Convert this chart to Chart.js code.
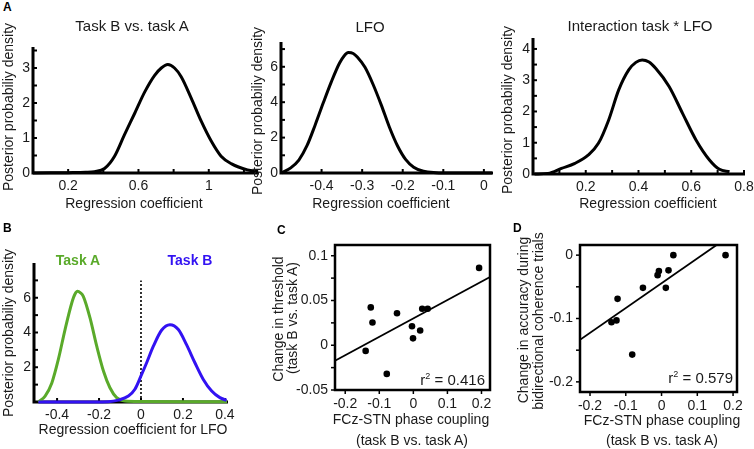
<!DOCTYPE html>
<html><head><meta charset="utf-8">
<script src="https://cdn.jsdelivr.net/npm/chart.js@4.4.1/dist/chart.umd.min.js"></script>
<style>
body{margin:0;background:#fff;}
#wrap{position:relative;width:754px;height:449px;overflow:hidden;background:#fff;font-family:Arial,"Liberation Sans",Helvetica,sans-serif;color:#1a1a1a}
canvas{position:absolute}
.t{position:absolute;white-space:nowrap;transform:translate(-50%,-50%);font-size:15px;line-height:1}
.ax{position:absolute;white-space:nowrap;transform:translate(-50%,-50%);font-size:14px;line-height:1}
.yx{position:absolute;white-space:nowrap;transform:translate(-50%,-50%) rotate(-90deg);font-size:14px;line-height:1}
.lab{position:absolute;font-weight:bold;font-size:12px;color:#000;line-height:12px}
.r2{position:absolute;white-space:nowrap;font-size:15px;transform:translateY(-50%)}
.r2 sup{font-size:9px;vertical-align:6px;line-height:0}
</style></head><body><div id="wrap">
<canvas id="a1" width="262" height="185" style="left:0;top:30px"></canvas>
<canvas id="a2" width="252" height="185" style="left:248px;top:30px"></canvas>
<canvas id="a3" width="254" height="185" style="left:500px;top:30px"></canvas>
<canvas id="b" width="240" height="205" style="left:0;top:240px"></canvas>
<canvas id="c" width="230" height="215" style="left:270px;top:235px"></canvas>
<canvas id="d" width="241" height="215" style="left:513px;top:235px"></canvas>
<div class="lab" style="left:3px;top:1px">A</div>
<div class="lab" style="left:3px;top:222px">B</div>
<div class="lab" style="left:277px;top:224px">C</div>
<div class="lab" style="left:513px;top:222px">D</div>
<div class="t" style="left:132px;top:25px">Task B vs. task A</div>
<div class="t" style="left:370px;top:26px">LFO</div>
<div class="t" style="left:640px;top:25px">Interaction task * LFO</div>
<div class="yx" style="left:8px;top:107px">Posterior probabiliy density</div>
<div class="yx" style="left:257px;top:111px">Posterior probabiliy density</div>
<div class="yx" style="left:507px;top:110px">Posterior probabiliy density</div>
<div class="ax" style="left:134px;top:203px">Regression coefficient</div>
<div class="ax" style="left:381px;top:203px">Regression coefficient</div>
<div class="ax" style="left:648px;top:203px">Regression coefficient</div>
<div class="yx" style="left:8px;top:333px">Posterior probabiliy density</div>
<div class="ax" style="left:133px;top:429px">Regression coefficient for LFO</div>
<div class="yx" style="left:278px;top:319px">Change in threshold</div>
<div class="yx" style="left:292px;top:318px">(task B vs. task A)</div>
<div class="ax" style="left:411px;top:419px">FCz-STN phase coupling</div>
<div class="ax" style="left:412px;top:440px">(task B vs. task A)</div>
<div class="yx" style="left:523px;top:320px">Change in accuracy during</div>
<div class="yx" style="left:538px;top:321px">bidirectional coherence trials</div>
<div class="ax" style="left:662px;top:420px">FCz-STN phase coupling</div>
<div class="ax" style="left:662px;top:440px">(task B vs. task A)</div>
<div class="t" style="left:78px;top:260px;font-weight:bold;font-size:14px;color:#5aaa2a">Task A</div>
<div class="t" style="left:190px;top:260px;font-weight:bold;font-size:14px;color:#3212f2">Task B</div>
<div class="r2" style="right:269px;top:379px">r<sup>2</sup> = 0.416</div>
<div class="r2" style="right:21px;top:377px">r<sup>2</sup> = 0.579</div>
</div>
<script>
// ---------- data ----------
const a1X = [0, 0.1, 0.2, 0.3, 0.35, 0.407, 0.464, 0.52, 0.578, 0.635, 0.692, 0.73, 0.767, 0.805, 0.843, 0.9, 0.957, 1.013, 1.07, 1.13, 1.22, 1.28];
const a1Y = [0, 0.005, 0.01, 0.02, 0.04, 0.13, 0.48, 1.09, 1.7, 2.31, 2.79, 3.0, 3.1, 3.0, 2.75, 2.14, 1.48, 0.92, 0.48, 0.26, 0.09, 0.04];
const a1XTicks = [0, 0.2, 0.4, 0.6, 0.8, 1.0, 1.2];
const a1XLabels = ['', '0.2', '', '0.6', '', '1', ''];
const a1YTicks = [0, 0.5, 1, 1.5, 2, 2.5, 3, 3.5];
const a1YLabels = ['0', '', '1', '', '2', '', '3', ''];

const a2X = [-0.499, -0.476, -0.456, -0.436, -0.416, -0.396, -0.376, -0.356, -0.345, -0.334, -0.322, -0.312, -0.293, -0.273, -0.253, -0.233, -0.213, -0.193, -0.173, -0.149, -0.118, -0.08, 0.02];
const a2Y = [0, 0.29, 0.73, 1.54, 2.7, 3.95, 5.15, 6.2, 6.6, 6.8, 6.75, 6.55, 5.97, 5.0, 3.85, 2.6, 1.54, 0.77, 0.33, 0.1, 0.02, 0, 0];
const a2XTicks = [-0.4, -0.3, -0.2, -0.1, 0];
const a2XLabels = ['-0.4', '-0.3', '-0.2', '-0.1', '0'];
const a2YTicks = [0, 1, 2, 3, 4, 5, 6, 7];
const a2YLabels = ['0', '', '2', '', '4', '', '6', ''];

const a3X = [0.006, 0.057, 0.108, 0.159, 0.21, 0.248, 0.287, 0.325, 0.363, 0.39, 0.414, 0.44, 0.465, 0.516, 0.567, 0.618, 0.669, 0.707, 0.745];
const a3Y = [0, 0.02, 0.18, 0.34, 0.61, 0.98, 1.73, 2.69, 3.33, 3.57, 3.65, 3.58, 3.38, 2.8, 1.94, 1.09, 0.45, 0.15, 0.07];
const a3XTicks = [0.1, 0.2, 0.3, 0.4, 0.5, 0.6, 0.7, 0.8];
const a3XLabels = ['', '0.2', '', '0.4', '', '0.6', '', '0.8'];
const a3YTicks = [0, 0.5, 1, 1.5, 2, 2.5, 3, 3.5, 4];
const a3YLabels = ['0', '', '1', '', '2', '', '3', '', '4'];

const bTaskAX = [-0.489, -0.457, -0.425, -0.394, -0.362, -0.33, -0.315, -0.302, -0.29, -0.275, -0.243, -0.211, -0.179, -0.148, -0.116, -0.076, 0, 0.2, 0.41];
const bTaskAY = [0, 0.34, 1.1, 2.45, 4.17, 5.7, 6.2, 6.37, 6.3, 6.08, 4.84, 3.21, 1.78, 0.82, 0.25, 0.06, 0.03, 0.02, 0.02];
const bTaskBX = [-0.489, -0.3, -0.156, -0.108, -0.06, -0.029, 0, 0.027, 0.059, 0.098, 0.138, 0.178, 0.217, 0.257, 0.297, 0.337, 0.376, 0.408];
const bTaskBY = [0, 0, 0.02, 0.11, 0.34, 0.73, 1.5, 2.26, 3.21, 4.13, 4.45, 4.17, 3.3, 2.26, 1.3, 0.63, 0.25, 0.1];
const bZeroLineY = [0, 7];
const bXTicks = [-0.4, -0.2, 0, 0.2, 0.4];
const bXLabels = ['-0.4', '-0.2', '0', '0.2', '0.4'];
const bYTicks = [1, 2, 3, 4, 5, 6, 7];
const bYLabels = ['', '2', '', '4', '', '6', ''];

const cX = [0.193, -0.125, -0.12, -0.048, -0.14, -0.078, -0.004, -0.001, 0.02, 0.026, 0.042];
const cY = [0.0864, 0.0423, 0.0254, 0.0357, -0.0063, -0.032, 0.0213, 0.0077, 0.0165, 0.0408, 0.0408];
const cFitX = [-0.23, 0.225];
const cFitY = [-0.0174, 0.0763];
const cXTicks = [-0.2, -0.1, 0, 0.1, 0.2];
const cXLabels = ['-0.2', '-0.1', '0', '0.1', '0.2'];
const cYTicks = [-0.05, -0.025, 0, 0.025, 0.05, 0.075, 0.1];
const cYLabels = ['-0.05', '', '0', '', '0.05', '', '0.1'];

const dX = [0.179, 0.033, 0.0195, -0.0074, -0.011, 0.012, -0.052, -0.123, -0.14, -0.126, -0.082];
const dY = [0, 0, -0.024, -0.025, -0.0316, -0.0516, -0.0516, -0.069, -0.106, -0.103, -0.157];
const dFitX = [-0.228, 0.154];
const dFitY = [-0.1337, 0.016];
const dXTicks = [-0.2, -0.1, 0, 0.1, 0.2];
const dXLabels = ['-0.2', '-0.1', '0', '0.1', '0.2'];
const dYTicks = [-0.2, -0.15, -0.1, -0.05, 0];
const dYLabels = ['-0.2', '', '-0.1', '', '0'];

// ---------- helpers ----------
const FONT = 'Arial, "Liberation Sans", Helvetica, sans-serif';
const TXT = '#1a1a1a';
const pts = (xs, ys) => xs.map((x, i) => ({x: x, y: ys[i]}));

const axesPlugin = {
  id: 'axesPlugin',
  beforeDatasetsDraw(chart, args, o) {
    if (o.box) return;
    const {ctx, chartArea: a, scales: {x, y}} = chart;
    ctx.save();
    ctx.strokeStyle = '#000';
    ctx.lineWidth = o.lw;
    ctx.beginPath();
    ctx.moveTo(a.left, a.top); ctx.lineTo(a.left, a.bottom); ctx.lineTo(a.right + 1, a.bottom);
    ctx.stroke();
    ctx.lineWidth = 2;
    y.ticks.forEach(t => { const p = y.getPixelForValue(t.value); ctx.beginPath(); ctx.moveTo(a.left, p); ctx.lineTo(a.left + o.tl, p); ctx.stroke(); });
    x.ticks.forEach(t => { const p = x.getPixelForValue(t.value); ctx.beginPath(); ctx.moveTo(p, a.bottom); ctx.lineTo(p, a.bottom - o.tl); ctx.stroke(); });
    ctx.restore();
  },
  afterDatasetsDraw(chart, args, o) {
    if (!o.box) return;
    const {ctx, chartArea: a, scales: {x, y}} = chart;
    ctx.save();
    ctx.strokeStyle = '#000';
    ctx.lineWidth = o.lw;
    ctx.strokeRect(a.left, a.top, a.right - a.left, a.bottom - a.top);
    ctx.lineWidth = 1.5;
    y.ticks.forEach(t => { const p = y.getPixelForValue(t.value); ctx.beginPath(); ctx.moveTo(a.left, p); ctx.lineTo(a.left - o.tl, p); ctx.stroke(); });
    x.ticks.forEach(t => { const p = x.getPixelForValue(t.value); ctx.beginPath(); ctx.moveTo(p, a.bottom); ctx.lineTo(p, a.bottom + o.tl); ctx.stroke(); });
    ctx.restore();
  }
};

function axis(o) {
  const isY = o.dir === 'y';
  return {
    type: 'linear', min: o.min, max: o.max,
    afterBuildTicks: s => { s.ticks = o.ticks.map(v => ({value: v})); },
    afterFit: s => {
      if (isY) { s.width = o.size; s.paddingTop = 0; s.paddingBottom = 0; }
      else { s.height = o.size; s.paddingLeft = 0; s.paddingRight = 0; }
    },
    grid: {display: false, drawTicks: false},
    border: {display: false},
    ticks: {
      autoSkip: false, maxRotation: 0, minRotation: 0, padding: o.pad, color: TXT,
      font: {family: FONT, size: 14},
      callback: (v) => { const i = o.ticks.findIndex(t => Math.abs(t - v) < 1e-9); return i >= 0 ? o.labels[i] : ''; }
    },
    title: {display: false}
  };
}

function makeChart(id, type, datasets, layoutPad, xAxis, yAxis, plug) {
  return new Chart(document.getElementById(id), {
    type: type,
    data: {datasets: datasets},
    options: {
      responsive: false, animation: false, events: [],
      layout: {padding: layoutPad},
      plugins: {legend: {display: false}, tooltip: {enabled: false}, axesPlugin: plug},
      scales: {x: xAxis, y: yAxis}
    },
    plugins: [axesPlugin]
  });
}

function curve(data, color, w) {
  return {data: data, borderColor: color, borderWidth: w, pointRadius: 0, fill: false,
          cubicInterpolationMode: 'monotone', clip: 4};
}

// ---------- panel A ----------
makeChart('a1', 'line', [curve(pts(a1X, a1Y), '#000', 3)],
  {top: 17, right: 4, left: 0, bottom: 0},
  axis({dir: 'x', min: 0, max: 1.28, ticks: a1XTicks, labels: a1XLabels, size: 42, pad: 5}),
  axis({dir: 'y', min: 0, max: 3.6, ticks: a1YTicks, labels: a1YLabels, size: 33, pad: 3}),
  {box: false, lw: 3, tl: 4});

makeChart('a2', 'line', [curve(pts(a2X, a2Y), '#000', 3)],
  {top: 12, right: 8, left: 0, bottom: 0},
  axis({dir: 'x', min: -0.5, max: 0.02, ticks: a2XTicks, labels: a2XLabels, size: 42, pad: 5}),
  axis({dir: 'y', min: 0, max: 7.4, ticks: a2YTicks, labels: a2YLabels, size: 33, pad: 3}),
  {box: false, lw: 3, tl: 4});

makeChart('a3', 'line', [curve(pts(a3X, a3Y), '#000', 3)],
  {top: 8, right: 10, left: 0, bottom: 0},
  axis({dir: 'x', min: 0, max: 0.8, ticks: a3XTicks, labels: a3XLabels, size: 41, pad: 5}),
  axis({dir: 'y', min: 0, max: 4.35, ticks: a3YTicks, labels: a3YLabels, size: 33, pad: 3}),
  {box: false, lw: 3, tl: 4});

// ---------- panel B ----------
makeChart('b', 'line', [
    curve(pts(bTaskBX, bTaskBY), '#3212f2', 3),
    curve(pts(bTaskAX, bTaskAY), '#5aaa2a', 3),
    {data: pts([0, 0], bZeroLineY), borderColor: '#000', borderWidth: 1.6, borderDash: [2, 2], pointRadius: 0, fill: false}
  ],
  {top: 23, right: 13, left: 0, bottom: 0},
  axis({dir: 'x', min: -0.51, max: 0.41, ticks: bXTicks, labels: bXLabels, size: 43, pad: 5}),
  axis({dir: 'y', min: 0, max: 8, ticks: bYTicks, labels: bYLabels, size: 34, pad: 3}),
  {box: false, lw: 3, tl: 4});

// ---------- panels C & D ----------
function scatterSets(xs, ys, fx, fy) {
  return [
    {data: pts(xs, ys), backgroundColor: '#000', borderColor: '#000', pointRadius: 3.3, borderWidth: 0},
    {data: pts(fx, fy), showLine: true, borderColor: '#000', borderWidth: 1.8, pointRadius: 0, fill: false}
  ];
}

makeChart('c', 'scatter', scatterSets(cX, cY, cFitX, cFitY),
  {top: 10, right: 10, left: 0, bottom: 0},
  axis({dir: 'x', min: -0.23, max: 0.225, ticks: cXTicks, labels: cXLabels, size: 60, pad: 6}),
  axis({dir: 'y', min: -0.05, max: 0.112, ticks: cYTicks, labels: cYLabels, size: 65, pad: 7}),
  {box: true, lw: 2.5, tl: 4});

makeChart('d', 'scatter', scatterSets(dX, dY, dFitX, dFitY),
  {top: 10, right: 17, left: 0, bottom: 0},
  axis({dir: 'x', min: -0.228, max: 0.211, ticks: dXTicks, labels: dXLabels, size: 58, pad: 6}),
  axis({dir: 'y', min: -0.216, max: 0.016, ticks: dYTicks, labels: dYLabels, size: 67, pad: 7}),
  {box: true, lw: 2.5, tl: 4});
</script>
</body></html>
